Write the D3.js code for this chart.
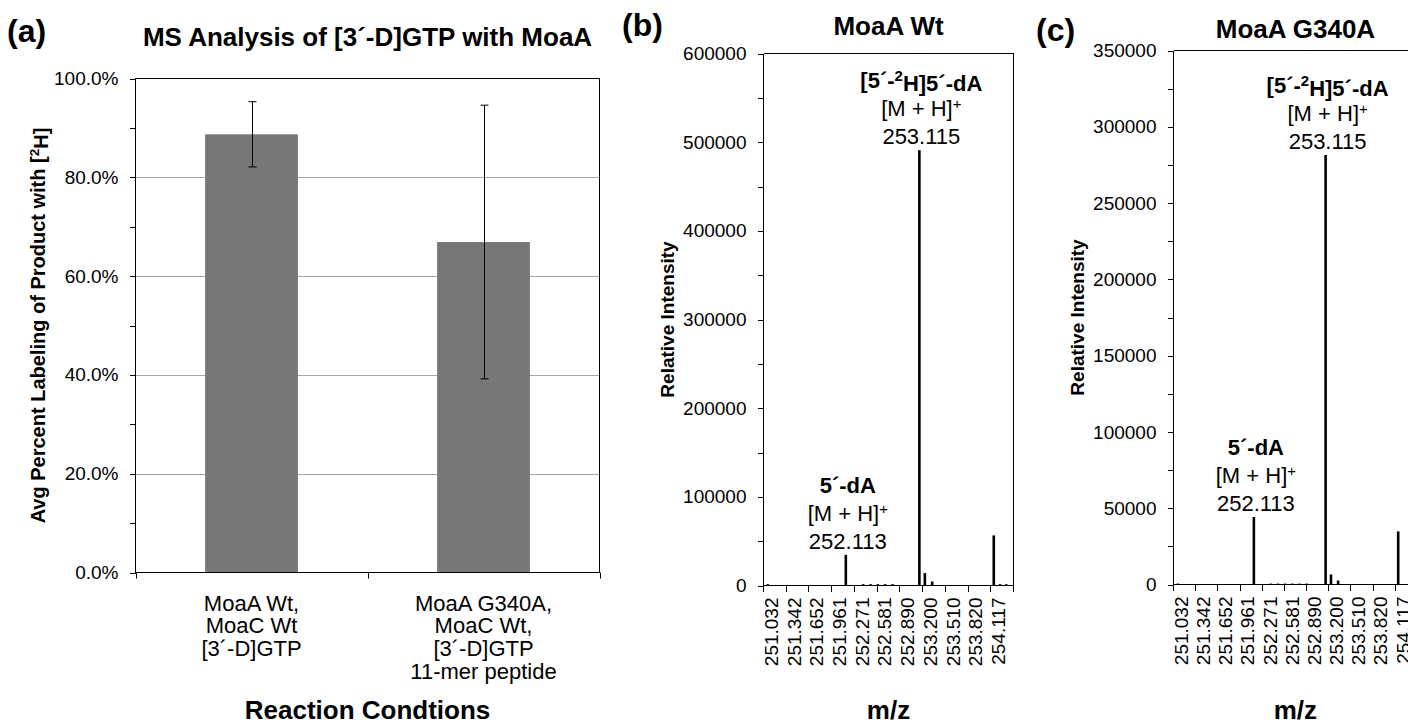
<!DOCTYPE html>
<html lang="en">
<head>
<meta charset="UTF-8">
<title>MS Analysis of [3´-D]GTP with MoaA</title>
<script src="https://d3js.org/d3.v7.min.js"></script>
<style>
  body { margin: 0; background: #fff; }
  svg { font-family: "Liberation Sans", Arial, Helvetica, sans-serif; }
  .axis path, .axis line { stroke: #000; shape-rendering: crispEdges; }
  .axis text { fill: #000; }
</style>
</head>
<body>
<script>
// ---- data: panel (a) ----
const conditions = [
  ["MoaA Wt,", "MoaC Wt", "[3´-D]GTP"],
  ["MoaA G340A,", "MoaC Wt,", "[3´-D]GTP", "11-mer peptide"]
];
const labelMean = [0.887, 0.669];
const labelErr = [0.066, 0.277];
const pctTicks = [0, 0.1, 0.2, 0.3, 0.4, 0.5, 0.6, 0.7, 0.8, 0.9, 1.0];

// ---- data: panels (b), (c) ----
const mzTicks = [251.032, 251.342, 251.652, 251.961, 252.271, 252.581, 252.890, 253.200, 253.510, 253.820, 254.117];

const wtMz = [251.05, 252.113, 252.35, 252.45, 252.55, 252.65, 252.75, 253.115, 253.19, 253.29, 254.117, 254.20, 254.28];
const wtIntensity = [1500, 34600, 1500, 1500, 1500, 1500, 1500, 491000, 14000, 4500, 56500, 1500, 1500];

const mutMz = [251.05, 252.113, 252.35, 252.45, 252.55, 252.65, 252.75, 252.85, 253.115, 253.19, 253.29, 254.117];
const mutIntensity = [600, 44200, 600, 600, 600, 600, 600, 600, 281500, 6600, 2600, 34800];

const W = 1408, H = 725;
const svg = d3.select("body").append("svg").attr("width", W).attr("height", H);

function supText(sel, parts, sup, rest) {
  // parts + superscript + rest, as tspans
  sel.append("tspan").text(parts);
  sel.append("tspan").attr("dy", "-0.45em").attr("font-size", "0.68em").text(sup);
  if (rest) sel.append("tspan").attr("dy", "0.45em").text(rest);
}

// ================= panel (a) =================
const A = { left: 135.5, right: 599.5, top: 78.5, bottom: 572.5 };
const yA = d3.scaleLinear().domain([0, 1]).range([A.bottom, A.top]);
const xA = d3.scaleBand().domain(d3.range(conditions.length)).range([A.left, A.right])
  .paddingInner(0.6).paddingOuter(0.3);

const gA = svg.append("g");

gA.selectAll(".grid").data([0.2, 0.4, 0.6, 0.8]).enter().append("line")
  .attr("x1", A.left).attr("x2", A.right)
  .attr("y1", d => Math.round(yA(d)) + 0.5).attr("y2", d => Math.round(yA(d)) + 0.5)
  .attr("stroke", "#a6a6a6");

gA.selectAll(".bar").data(labelMean).enter().append("rect")
  .attr("x", (d, i) => xA(i)).attr("width", xA.bandwidth())
  .attr("y", d => yA(d)).attr("height", d => yA(0) - yA(d))
  .attr("fill", "#777777");

// frame
gA.append("rect").attr("x", A.left).attr("y", A.top)
  .attr("width", A.right - A.left).attr("height", A.bottom - A.top)
  .attr("fill", "none").attr("stroke", "#000");

// error bars
const eb = gA.selectAll(".err").data(labelMean).enter().append("g")
  .attr("transform", (d, i) => `translate(${Math.round(xA(i) + xA.bandwidth() / 2) + 0.5},0)`);
eb.append("line").attr("y1", (d, i) => yA(d + labelErr[i])).attr("y2", (d, i) => yA(d - labelErr[i])).attr("stroke", "#000");
eb.append("line").attr("x1", -4).attr("x2", 4).attr("y1", (d, i) => yA(d + labelErr[i])).attr("y2", (d, i) => yA(d + labelErr[i])).attr("stroke", "#000");
eb.append("line").attr("x1", -4).attr("x2", 4).attr("y1", (d, i) => yA(d - labelErr[i])).attr("y2", (d, i) => yA(d - labelErr[i])).attr("stroke", "#000");

gA.append("g").attr("class", "axis")
  .attr("transform", `translate(${A.left},0)`)
  .call(d3.axisLeft(yA).tickValues(pctTicks).tickSize(6).tickPadding(11)
    .tickFormat(d => Math.round(d * 100) % 20 === 0 ? d3.format(".1%")(d) : ""))
  .call(g => g.selectAll("text").attr("font-size", 19).attr("font-family", null));
gA.selectAll(".axis .domain").remove();

// x axis ticks at the category boundaries
const bounds = d3.range(conditions.length + 1).map(i => i === conditions.length ? A.right : A.left + i * (A.right - A.left) / conditions.length);
gA.selectAll(".xt").data(bounds).enter().append("line")
  .attr("x1", d => Math.round(d) + 0.5).attr("x2", d => Math.round(d) + 0.5)
  .attr("y1", A.bottom).attr("y2", A.bottom + 6).attr("stroke", "#000");

const xl = gA.selectAll(".xl").data(conditions).enter().append("text")
  .attr("text-anchor", "middle").attr("font-size", 22)
  .attr("transform", (d, i) => `translate(${xA(i) + xA.bandwidth() / 2},${A.bottom + 38})`);
xl.selectAll("tspan").data(d => d).enter().append("tspan")
  .attr("x", 0).attr("y", (d, i) => i * 22.7).text(d => d);

gA.append("text").attr("x", (A.left + A.right) / 2).attr("y", 46)
  .attr("text-anchor", "middle").attr("font-weight", "bold").attr("font-size", 26)
  .text("MS Analysis of [3´-D]GTP with MoaA");

gA.append("text").attr("x", (A.left + A.right) / 2).attr("y", 719)
  .attr("text-anchor", "middle").attr("font-weight", "bold").attr("font-size", 26)
  .text("Reaction Condtions");

gA.append("text").attr("transform", `translate(45,${(A.top + A.bottom) / 2}) rotate(-90)`)
  .attr("text-anchor", "middle").attr("font-weight", "bold").attr("font-size", 20)
  .call(t => supText(t, "Avg Percent Labeling of Product with [", "2", "H]"));

svg.append("text").attr("x", 7).attr("y", 42).attr("font-weight", "bold").attr("font-size", 32).text("(a)");

// ================= panels (b), (c) =================
function spectrum(o) {
  const g = svg.append("g");
  const step = o.step;
  const pad = 3;
  const x = d3.scaleLinear().domain(mzTicks)
    .range(mzTicks.map((d, i) => o.left + pad + i * step));
  const right = o.left + step * mzTicks.length;
  const y = d3.scaleLinear().domain([0, o.ymax]).range([o.bottom, o.top]);

  // frame (top + right); left and bottom come from axes
  g.append("path")
    .attr("d", `M${o.left},${o.top}H${right}V${o.bottom}`)
    .attr("fill", "none").attr("stroke", "#000").attr("shape-rendering", "crispEdges");

  // peaks
  g.selectAll(".pk").data(o.mz).enter().append("rect")
    .attr("x", d => x(d) - 1.3).attr("width", 2.6)
    .attr("y", (d, i) => y(o.val[i])).attr("height", (d, i) => y(0) - y(o.val[i]))
    .attr("fill", "#000");

  // y axis
  const yTicks = d3.range(0, o.ymax + 1, o.minor);
  g.append("g").attr("class", "axis").attr("transform", `translate(${o.left},0)`)
    .call(d3.axisLeft(y).tickValues(yTicks).tickSize(6).tickPadding(11)
      .tickFormat(d => d % o.major === 0 ? d3.format("d")(d) : ""))
    .call(s => s.select(".domain").attr("d", `M0,${o.top}V${o.bottom}`))
    .call(s => s.selectAll("text").attr("font-size", 19).attr("font-family", null));

  // x axis: labels on categories, ticks between
  g.append("g").attr("class", "axis").attr("transform", `translate(0,${o.bottom})`)
    .call(d3.axisBottom(x).tickValues(mzTicks).tickSize(0).tickFormat(d3.format(".3f")))
    .call(s => s.select(".domain").remove())
    .call(s => s.selectAll("text")
      .attr("font-size", 19).attr("font-family", null)
      .attr("transform", "rotate(-90)").attr("text-anchor", "end")
      .attr("x", -12).attr("y", 4).attr("dy", "0.36em"));

  const tickPos = mzTicks.map(d => x(d) - pad).concat([right]);
  g.append("path").attr("d", `M${o.left},${o.bottom}H${right}`).attr("stroke", "#000")
    .attr("shape-rendering", "crispEdges");
  g.selectAll(".xt").data(tickPos).enter().append("line")
    .attr("x1", d => d).attr("x2", d => d).attr("y1", o.bottom).attr("y2", o.bottom + 6)
    .attr("stroke", "#000").attr("shape-rendering", "crispEdges");

  // annotations
  o.notes.forEach(n => {
    const i = o.mz.indexOf(n.mz);
    const cx = x(n.mz) + 2;
    const base = y(o.val[i]) - 6;
    g.append("text").attr("x", cx).attr("y", base).attr("text-anchor", "middle")
      .attr("font-size", 22).text(n.mz.toFixed(3));
    g.append("text").attr("x", cx).attr("y", base - 28).attr("text-anchor", "middle")
      .attr("font-size", 22).call(t => supText(t, "[M + H]", "+"));
    const t = g.append("text").attr("x", cx).attr("y", base - 56).attr("text-anchor", "middle")
      .attr("font-size", 22).attr("font-weight", "bold");
    if (n.deut) supText(t, "[5´-", "2", "H]5´-dA"); else t.text("5´-dA");
  });

  // titles
  g.append("text").attr("x", (o.left + right) / 2).attr("y", o.titleY)
    .attr("text-anchor", "middle").attr("font-weight", "bold").attr("font-size", 26).text(o.title);
  g.append("text").attr("x", (o.left + right) / 2).attr("y", 719)
    .attr("text-anchor", "middle").attr("font-weight", "bold").attr("font-size", 26).text("m/z");
  g.append("text").attr("transform", `translate(${o.left - 90},${(o.top + o.bottom) / 2}) rotate(-90)`)
    .attr("text-anchor", "middle").attr("font-weight", "bold").attr("font-size", 19).text("Relative Intensity");
  svg.append("text").attr("x", o.letterX).attr("y", o.letterY)
    .attr("font-weight", "bold").attr("font-size", 32).text(o.letter);
}

spectrum({
  left: 763.5, top: 53.5, bottom: 585.5, step: 250 / 11, ymax: 600000, major: 100000, minor: 50000,
  mz: wtMz, val: wtIntensity, title: "MoaA Wt", titleY: 35, letter: "(b)", letterX: 622, letterY: 36,
  notes: [{ mz: 253.115, deut: true }, { mz: 252.113, deut: false }]
});

spectrum({
  left: 1173.5, top: 50.5, bottom: 584.5, step: 22.17, ymax: 350000, major: 50000, minor: 25000,
  mz: mutMz, val: mutIntensity, title: "MoaA G340A", titleY: 38, letter: "(c)", letterX: 1036, letterY: 41,
  notes: [{ mz: 253.115, deut: true }, { mz: 252.113, deut: false }]
});
</script>
</body>
</html>
